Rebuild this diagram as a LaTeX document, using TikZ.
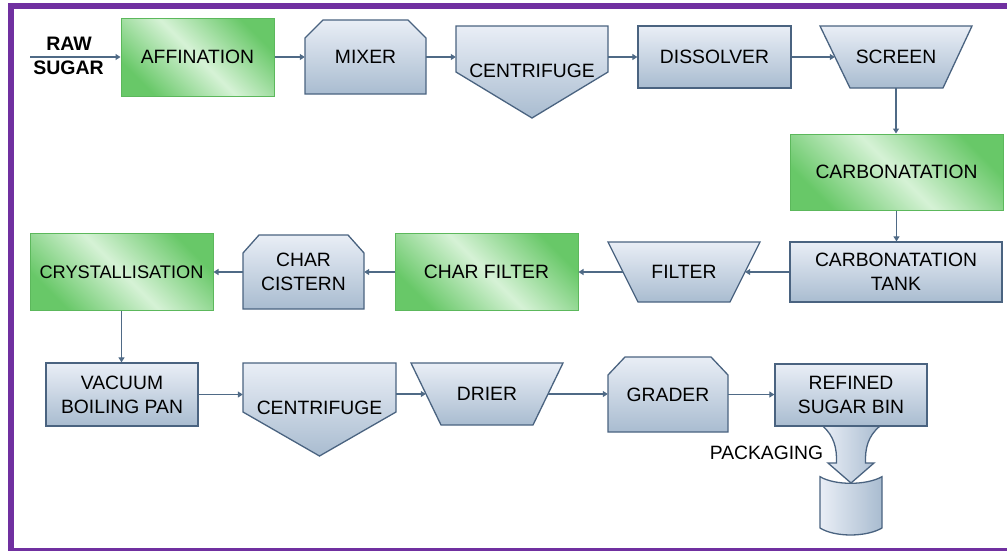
\documentclass[tikz,border=0pt]{standalone}
\usepackage{fontspec}
\setmainfont{Liberation Sans}
\usetikzlibrary{arrows.meta}
\definecolor{frameC}{HTML}{7030A0}
\definecolor{bTop}{HTML}{E9EEF6}
\definecolor{bBot}{HTML}{A9BCD0}
\definecolor{bLine}{HTML}{4A6380}
\definecolor{gEdge}{HTML}{68C868}
\definecolor{gMid}{HTML}{D6F2D6}
\definecolor{gLine}{HTML}{5CB85C}
\definecolor{connC}{HTML}{4F6A86}
\begin{document}
\begin{tikzpicture}[x=1pt,y=-1pt,
  every node/.style={font=\fontsize{19.3}{24}\selectfont, text=black, inner sep=0pt, align=center},
  bluebox/.style={rectangle, draw=bLine, line width=1.3pt, top color=bTop, bottom color=bBot},
  bluepath/.style={draw=bLine, line width=1.3pt, top color=bTop, bottom color=bBot},
  sidepath/.style={draw=bLine, line width=1.3pt, left color=bTop, right color=bBot},
  greenbox/.style={rectangle, draw=gLine, line width=1pt, left color=gEdge, right color=gEdge, middle color=gMid, shading angle=-45},
  conn/.style={draw=connC, line width=1.4pt, -{Triangle[length=5pt,width=6pt]}},
]
\useasboundingbox (0,0) rectangle (1007,550);
\begin{scope}
\clip (0,0) rectangle (1007,550);
\draw[frameC, line width=6pt] (11,6) rectangle (1015,551);
\end{scope}

% ---- shapes drawn directly ----
% mixer
\path[bluepath] (305,94) -- (305,38) -- (323,20) -- (408,20) -- (426,38) -- (426,94) -- cycle;
% centrifuge 1
\path[bluepath] (456,26) -- (608,26) -- (608,72) -- (532,118) -- (456,72) -- cycle;
% screen
\path[bluepath] (820,26) -- (972,26) -- (943,88) -- (850,88) -- cycle;
% filter
\path[bluepath] (608,242) -- (760,242) -- (730,302) -- (638,302) -- cycle;
% char cistern
\path[bluepath] (243,309) -- (243,253) -- (259,235) -- (348,235) -- (364,253) -- (364,309) -- cycle;
% centrifuge 2
\path[bluepath] (243,363) -- (396,363) -- (396,412) -- (319.5,456) -- (243,412) -- cycle;
% drier
\path[bluepath] (411,363) -- (563,363) -- (533,425) -- (441,425) -- cycle;
% grader
\path[bluepath] (608,432) -- (608,375) -- (625,357) -- (711,357) -- (728,375) -- (728,432) -- cycle;
% packaging arrow
\path[sidepath] (822.7,426) .. controls (834,436) and (837,448) .. (836.5,463) -- (828,463) -- (851,483) -- (874,463) -- (865.5,463) .. controls (865,448) and (868,436) .. (880,426) -- cycle;
% package
\path[sidepath] (820,476.7) .. controls (835,485.5) and (866,485.5) .. (882,476.7) -- (882,528) .. controls (866,537.3) and (835,537.3) .. (820,528) -- cycle;

% ---- nodes ----
\node[font=\fontsize{19.5}{24}\selectfont\bfseries] (raw) at (69,44) {RAW};
\node[font=\fontsize{19.5}{24}\selectfont\bfseries] (sugar) at (68.5,68) {SUGAR};
\coordinate (rawin) at (30,57);
\node[greenbox, minimum width=153, minimum height=78] (aff) at (197.5,57) {AFFINATION};
\node[minimum width=121, minimum height=74] (mixer) at (365.5,57) {MIXER};
\node[minimum width=152] (cent1) at (532,71) {CENTRIFUGE};
\node[bluebox, minimum width=153, minimum height=62] (dis) at (714.5,57) {DISSOLVER};
\node[minimum width=122, minimum height=62] (screen) at (896,57) {SCREEN};
\node[greenbox, minimum width=213, minimum height=76] (carb) at (896.5,172) {CARBONATATION};
\node[bluebox, minimum width=212, minimum height=60] (tank) at (896,272) {CARBONATATION\\TANK};
\node[minimum width=122, minimum height=60] (filter) at (684,272) {FILTER};
\node[greenbox, minimum width=183, minimum height=77] (charf) at (486.5,272) {CHAR FILTER};
\node[minimum width=121, minimum height=74] (cist) at (303.5,272) {CHAR\\CISTERN};
\node[greenbox, minimum width=183, minimum height=77, font=\fontsize{18.2}{24}\selectfont] (cryst) at (121.5,272) {CRYSTALLISATION};
\node[bluebox, minimum width=152, minimum height=63] (vbp) at (122,394.5) {VACUUM\\BOILING PAN};
\node[minimum width=153] (cent2) at (319.5,408) {CENTRIFUGE};
\node[minimum width=122, minimum height=62] (drier) at (487,394) {DRIER};
\node[minimum width=120, minimum height=75] (grader) at (668,394.5) {GRADER};
\node[bluebox, minimum width=152, minimum height=62] (bin) at (851,395) {REFINED\\SUGAR BIN};
\node (pack) at (766.5,453) {PACKAGING};

% ---- connectors ----
\draw[conn] (rawin) -- (aff.west);
\draw[conn] (aff.east) -- (aff.east -| mixer.west);
\draw[conn] (mixer.east) -- (mixer.east -| cent1.west);
\draw[conn] (dis.west -| cent1.east) -- (dis.west);
\draw[conn] (dis.east) -- (screen.west);
\draw[conn] (screen.south) -- (screen.south |- carb.north);
\draw[conn] (carb.south) -- (carb.south |- tank.north);
\draw[conn] (tank.west) -- (filter.east);
\draw[conn] (filter.west) -- (charf.east);
\draw[conn] (charf.west) -- (cist.east);
\draw[conn] (cist.west) -- (cryst.east);
\draw[conn] (cryst.south) -- (cryst.south |- vbp.north);
\draw[conn] (vbp.east) -- (vbp.east -| cent2.west);
\draw[conn] (drier.west -| cent2.east) -- (drier.west);
\draw[conn] (drier.east) -- (drier.east -| grader.west);
\draw[conn] (grader.east) -- (grader.east -| bin.west);
\end{tikzpicture}
\end{document}
